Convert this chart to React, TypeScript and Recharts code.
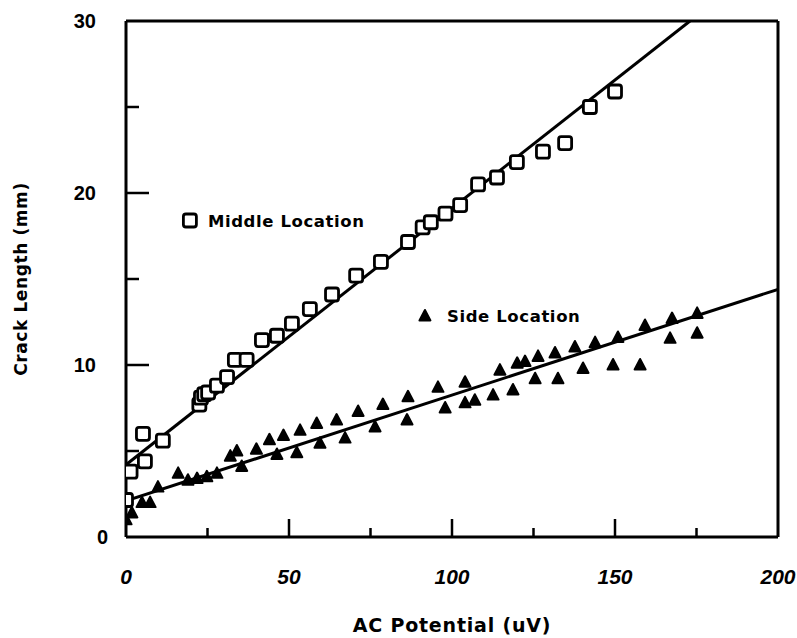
import React from "react";
import {
  ComposedChart,
  Scatter,
  XAxis,
  YAxis,
  ReferenceLine,
  ReferenceDot,
  Label,
} from "recharts";

// Middle location (open squares): [AC potential uV, crack length mm]
const middleX = [0, 1.4, 5.8, 5.2, 11.3, 22.5, 23, 24, 25.2, 27.9, 31, 33.4, 37, 41.7, 46.3, 50.9, 56.4, 63.2, 70.6, 78.2, 86.5, 91, 93.5, 98, 102.5, 108, 113.8, 119.9, 127.9, 134.7, 142.3, 150];
const middleY = [2.15, 3.8, 4.4, 6.0, 5.6, 7.7, 8.1, 8.3, 8.4, 8.8, 9.3, 10.3, 10.3, 11.45, 11.7, 12.4, 13.25, 14.1, 15.2, 16.0, 17.15, 18.0, 18.3, 18.8, 19.3, 20.5, 20.9, 21.8, 22.4, 22.9, 25.0, 25.9];

// Side location (filled triangles)
const sideX = [0, 1.8, 4.9, 7.4, 9.8, 16, 19, 21.8, 24.8, 27.9, 32, 34, 35.5, 40, 44, 48.3, 53.4, 58.5, 64.6, 71.2, 78.8, 86.5, 95.7, 104, 114.7, 120, 122.4, 126.4, 131.6, 137.7, 143.9, 150.9, 159.2, 167.5, 175.2,
  46.3, 52.4, 59.5, 67.2, 76.4, 86.2, 97.9, 104, 107, 112.6, 118.7, 125.5, 132.5, 140.2, 149.4, 157.7, 166.9, 175.2];
const sideY = [1.0, 1.4, 2.0, 2.0, 2.9, 3.7, 3.3, 3.4, 3.5, 3.7, 4.7, 5.0, 4.1, 5.1, 5.65, 5.9, 6.2, 6.6, 6.8, 7.3, 7.7, 8.15, 8.7, 9.0, 9.7, 10.1, 10.2, 10.5, 10.7, 11.05, 11.3, 11.6, 12.3, 12.7, 13.0,
  4.8, 4.9, 5.45, 5.75, 6.4, 6.8, 7.5, 7.8, 7.95, 8.25, 8.55, 9.2, 9.2, 9.8, 10.0, 10.0, 11.55, 11.85];

// Fitted lines (endpoints)
const middleFitX = [0, 173];
const middleFitY = [4.2, 30];
const sideFitX = [0, 200];
const sideFitY = [2.1, 14.4];

const xTicks = [0, 25, 50, 75, 100, 125, 150, 175, 200];
const xMajor = [0, 50, 100, 150, 200];
const yTicks = [0, 5, 10, 15, 20, 25, 30];
const yMajor = [0, 10, 20, 30];

const middleLabelAt = { x: 19.6, y: 18.4 };
const sideLabelAt = { x: 91.7, y: 12.85 };

const toPts = (xs: number[], ys: number[]) => xs.map((x, i) => ({ x, y: ys[i] }));
const middleData = toPts(middleX, middleY);
const sideData = toPts(sideX, sideY);
const middleFit = toPts(middleFitX, middleFitY);
const sideFit = toPts(sideFitX, sideFitY);

const FONT = "'Liberation Sans', Arial, sans-serif";
const HEAVY = "'DejaVu Sans', 'Liberation Sans', sans-serif";

const Square = (p: any) => (
  <rect x={p.cx - 6.5} y={p.cy - 6.5} width={13} height={13} rx={2.5} fill="#fff" stroke="#000" strokeWidth={2.8} />
);
const Triangle = (p: any) => (
  <path
    d={`M${p.cx},${p.cy - 6} L${p.cx + 5.5},${p.cy + 4.5} L${p.cx - 5.5},${p.cy + 4.5} Z`}
    fill="#000"
    stroke="#000"
    strokeWidth={2}
    strokeLinejoin="round"
  />
);
const NoShape = () => null;

const XTick = (p: any) => {
  const v = p.payload.value;
  const major = xMajor.includes(v);
  return (
    <g>
      {v !== 0 && v !== 200 && (
        <line x1={p.x} x2={p.x} y1={p.y} y2={p.y - (major ? 18 : 9)} stroke="#000" strokeWidth={2.5} />
      )}
      {major && (
        <text x={p.x} y={p.y + 47} textAnchor="middle" fontFamily={FONT} fontWeight="bold" fontStyle="italic" fontSize={21} fill="#000">
          {v}
        </text>
      )}
    </g>
  );
};

const YTick = (p: any) => {
  const v = p.payload.value;
  const major = yMajor.includes(v);
  return (
    <g>
      {v !== 0 && v !== 30 && (
        <line x1={p.x} x2={p.x + (major ? 23 : 13)} y1={p.y} y2={p.y} stroke="#000" strokeWidth={2.5} />
      )}
      {major && (
        <text x={v === 0 ? p.x - 18 : p.x - 30} y={p.y + 7} textAnchor="end" fontFamily={FONT} fontWeight="bold" fontSize={20} fill="#000">
          {v}
        </text>
      )}
    </g>
  );
};

const MiddleLabel = (p: any) => (
  <g>
    <Square cx={p.cx} cy={p.cy} />
    <text x={p.cx + 18} y={p.cy + 6} fontFamily={HEAVY} fontWeight="bold" fontSize={16.5} letterSpacing={0.6} fill="#000">
      Middle Location
    </text>
  </g>
);
const SideLabel = (p: any) => (
  <g>
    <Triangle cx={p.cx} cy={p.cy} />
    <text x={p.cx + 22} y={p.cy + 6} fontFamily={HEAVY} fontWeight="bold" fontSize={16.5} letterSpacing={0.6} fill="#000">
      Side Location
    </text>
  </g>
);

export default function App() {
  return (
    <div style={{ position: "absolute", left: 0, top: 0, background: "#fff" }}>
      <ComposedChart width={797} height={638} margin={{ top: 21, right: 19, bottom: 1, left: 6 }}>
        <XAxis
          type="number"
          dataKey="x"
          domain={[0, 200]}
          ticks={xTicks}
          interval={0}
          tick={<XTick />}
          tickLine={false}
          tickSize={0}
          tickMargin={0}
          height={100}
          axisLine={{ stroke: "#000", strokeWidth: 3 }}
          allowDataOverflow
        >
          <Label value="AC Potential (uV)" position="insideBottom" offset={5} fill="#000" style={{ fontFamily: HEAVY, fontWeight: "bold", fontSize: 19, letterSpacing: 0.8 }} />
        </XAxis>
        <YAxis
          type="number"
          dataKey="y"
          domain={[0, 30]}
          ticks={yTicks}
          interval={0}
          tick={<YTick />}
          tickLine={false}
          tickSize={0}
          tickMargin={0}
          width={120}
          axisLine={{ stroke: "#000", strokeWidth: 3 }}
          allowDataOverflow
        >
          <Label value="Crack Length (mm)" angle={-90} position="insideLeft" offset={15} fill="#000" style={{ fontFamily: HEAVY, fontWeight: "bold", fontSize: 17, letterSpacing: 0.6, textAnchor: "middle" }} />
        </YAxis>
        <ReferenceLine y={30} stroke="#000" strokeWidth={3} />
        <ReferenceLine x={200} stroke="#000" strokeWidth={3} />
        <Scatter data={middleFit} line={{ stroke: "#000", strokeWidth: 3 }} shape={NoShape} isAnimationActive={false} />
        <Scatter data={sideFit} line={{ stroke: "#000", strokeWidth: 3 }} shape={NoShape} isAnimationActive={false} />
        <Scatter data={sideData} shape={Triangle} isAnimationActive={false} />
        <Scatter data={middleData} shape={Square} isAnimationActive={false} />
        <ReferenceDot x={middleLabelAt.x} y={middleLabelAt.y} r={6} shape={MiddleLabel} />
        <ReferenceDot x={sideLabelAt.x} y={sideLabelAt.y} r={6} shape={SideLabel} />
      </ComposedChart>
    </div>
  );
}
